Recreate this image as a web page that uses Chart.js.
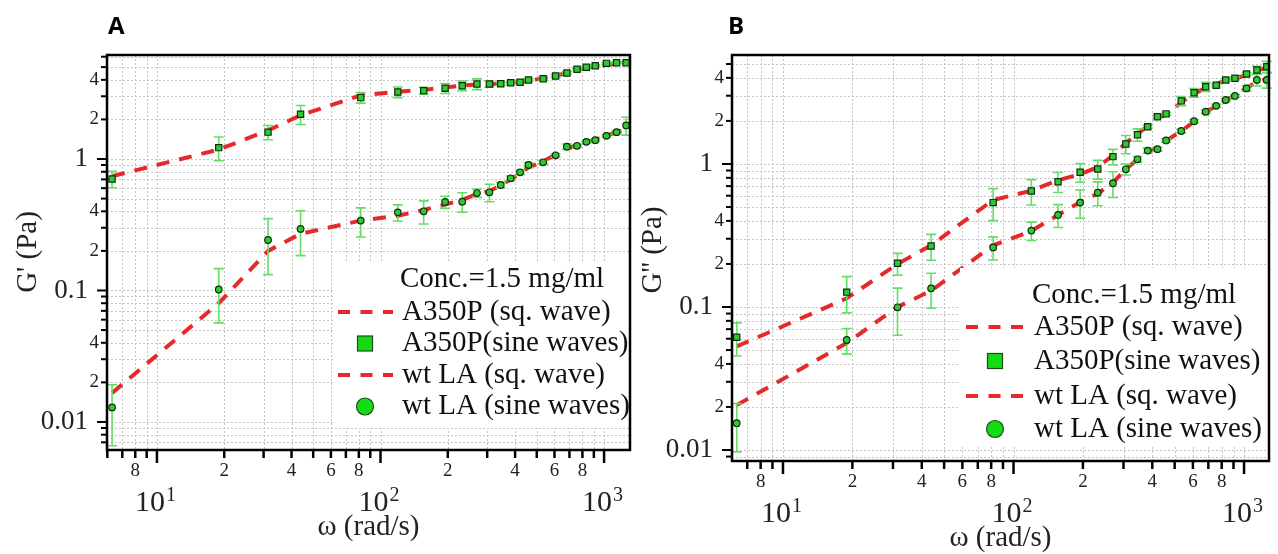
<!DOCTYPE html>
<html>
<head>
<meta charset="utf-8">
<script src="https://cdn.jsdelivr.net/npm/chart.js@4.4.0/dist/chart.umd.min.js"></script>
<style>
  body { margin: 0; background: #fff; }
  #wrap { position: relative; width: 1278px; height: 554px; }
  canvas { position: absolute; top: 0; }
</style>
</head>
<body>
<div id="wrap">
  <canvas id="chartA" width="640" height="554" style="left:0"></canvas>
  <canvas id="chartB" width="638" height="554" style="left:640px"></canvas>
</div>
<script>
// angular frequencies (rad/s) of the measured harmonics
const omega = [6.3, 18.9, 31.4, 43.9, 81.6, 119.5, 156, 194.5, 232, 270, 307, 345, 382, 421, 459, 534, 607, 682, 757, 833, 913, 1025, 1137, 1255];

// panel A, G' (Pa)
const gpA350Sine = [0.705, 1.22, 1.6, 2.19, 2.93, 3.23, 3.31, 3.45, 3.61, 3.72, 3.72, 3.73, 3.8, 3.83, 3.99, 4.08, 4.28, 4.51, 4.81, 4.98, 5.12, 5.34, 5.4, 5.4];
const gpA350Err = [0.1, 0.25, 0.2, 0.36, 0.27, 0.3, 0.2, 0.3, 0.3, 0.35, 0.2, 0.1, 0.08, 0.08, 0.08, 0.1, 0.1, 0.1, 0.1, 0.1, 0.08, 0.08, 0.08, 0.1];
const gpWtSine = [0.0129, 0.1017, 0.242, 0.294, 0.34, 0.393, 0.40, 0.471, 0.474, 0.551, 0.558, 0.634, 0.713, 0.792, 0.90, 0.944, 1.067, 1.24, 1.26, 1.35, 1.39, 1.50, 1.6, 1.80];
const gpWtErr = [0.0063, 0.045, 0.11, 0.11, 0.085, 0.055, 0.08, 0.05, 0.08, 0.04, 0.085, 0.03, 0.03, 0.03, 0.04, 0.03, 0.03, 0.06, 0.03, 0.03, 0.03, 0.03, 0.04, 0.28];
const gpA350Sq = [0.74, 1.18, 1.65, 2.15, 3.05, 3.25, 3.35, 3.5, 3.62, 3.68, 3.7, 3.75, 3.8, 3.85, 3.95, 4.1, 4.3, 4.5, 4.75, 4.95, 5.05, 5.2, 5.3, 5.45];
const gpWtSq = [0.0166, 0.08, 0.2, 0.27, 0.34, 0.37, 0.41, 0.45, 0.49, 0.54, 0.57, 0.63, 0.7, 0.78, 0.86, 0.96, 1.08, 1.2, 1.27, 1.35, 1.4, 1.5, 1.6, 1.68];

// panel B, G'' (Pa)
const gppA350Sine = [0.0614, 0.127, 0.202, 0.267, 0.537, 0.647, 0.752, 0.875, 0.923, 1.125, 1.38, 1.6, 1.82, 2.14, 2.24, 2.76, 3.15, 3.47, 3.55, 3.87, 3.97, 4.26, 4.54, 4.79];
const gppA350Err = [0.016, 0.036, 0.035, 0.055, 0.135, 0.13, 0.12, 0.13, 0.14, 0.14, 0.2, 0.16, 0.05, 0.05, 0.05, 0.2, 0.22, 0.25, 0.08, 0.08, 0.08, 0.1, 0.27, 0.43];
const gppWtSine = [0.0154, 0.0588, 0.0995, 0.135, 0.261, 0.342, 0.44, 0.537, 0.63, 0.733, 0.918, 1.078, 1.24, 1.27, 1.46, 1.7, 1.99, 2.32, 2.55, 2.8, 2.99, 3.38, 3.87, 3.87];
const gppWtErr = [0.0057, 0.012, 0.036, 0.037, 0.048, 0.05, 0.08, 0.12, 0.12, 0.15, 0.08, 0.05, 0.05, 0.04, 0.04, 0.05, 0.05, 0.06, 0.06, 0.06, 0.06, 0.15, 0.36, 0.48];
const gppA350Sq = [0.053, 0.115, 0.2, 0.27, 0.56, 0.65, 0.77, 0.85, 0.95, 1.15, 1.4, 1.62, 1.85, 2.1, 2.2, 2.7, 3.1, 3.4, 3.6, 3.85, 3.95, 4.2, 4.5, 4.7];
const gppWtSq = [0.0206, 0.056, 0.1, 0.13, 0.27, 0.34, 0.44, 0.54, 0.62, 0.74, 0.92, 1.08, 1.22, 1.3, 1.45, 1.7, 1.98, 2.3, 2.55, 2.8, 3.0, 3.4, 3.75, 3.9];

const legendLabels = ['A350P (sq. wave)', 'A350P(sine waves)', 'wt LA (sq. wave)', 'wt LA (sine waves)'];
const concLabel = 'Conc.=1.5 mg/ml';
const xTitle = 'ω (rad/s)';
const yMajorTicks = [1, 0.1, 0.01];
const yMinorLabels = [4, 2, 0.4, 0.2, 0.04, 0.02];
const xMajorTicks = [10, 100, 1000];
const xMinorLabels = [8, 20, 40, 60, 80, 200, 400, 600, 800];

const SERIF = '"Liberation Serif", "Times New Roman", serif';
const RED = '#e42a2a';
const ERR_GREEN = '#66dd66';

function pts(xs, ys) {
    return xs.map((x, i) => ({ x: x, y: ys[i] }));
}

function logValues(min, max) {
    const out = [];
    for (let e = Math.floor(Math.log10(min)); e <= Math.ceil(Math.log10(max)); e++) {
        for (let m = 1; m <= 9; m++) {
            const v = m * Math.pow(10, e);
            if (v > min * 1.001 && v < max / 1.001) out.push({ v: v, major: m === 1 });
        }
    }
    return out;
}

function firstDigit(v) {
    return String(Math.round(v / Math.pow(10, Math.floor(Math.log10(v) + 1e-9))));
}

function panelPlugin(cfg) {
    return {
        id: 'panel' + cfg.letter,
        beforeDatasetsDraw(chart) {
            const { ctx, chartArea: a, scales: { x, y } } = chart;
            ctx.save();
            ctx.strokeStyle = '#c4c4c4';
            ctx.lineWidth = 1;
            ctx.setLineDash([2, 2]);
            for (const t of logValues(x.min, x.max)) {
                const px = Math.round(x.getPixelForValue(t.v)) + 0.5;
                ctx.beginPath(); ctx.moveTo(px, a.top); ctx.lineTo(px, a.bottom); ctx.stroke();
            }
            for (const t of logValues(y.min, y.max)) {
                const py = Math.round(y.getPixelForValue(t.v)) + 0.5;
                ctx.beginPath(); ctx.moveTo(a.left, py); ctx.lineTo(a.right, py); ctx.stroke();
            }
            ctx.restore();
        },
        beforeDatasetDraw(chart, args) {
            const ds = chart.data.datasets[args.index];
            if (!ds.errors) return;
            const { ctx, scales: { x, y } } = chart;
            ctx.save();
            ctx.strokeStyle = ERR_GREEN;
            ctx.lineWidth = 1.6;
            ds.data.forEach((p, i) => {
                const e = ds.errors[i];
                const px = x.getPixelForValue(p.x);
                const top = y.getPixelForValue(p.y + e);
                const bot = y.getPixelForValue(Math.max(p.y - e, y.min));
                ctx.beginPath();
                ctx.moveTo(px, top); ctx.lineTo(px, bot);
                ctx.moveTo(px - 5, top); ctx.lineTo(px + 5, top);
                ctx.moveTo(px - 5, bot); ctx.lineTo(px + 5, bot);
                ctx.stroke();
            });
            ctx.restore();
        },
        afterDatasetsDraw(chart) {
            const { ctx, chartArea: a, scales: { x, y } } = chart;
            const lg = cfg.legend;
            ctx.save();

            // legend
            ctx.fillStyle = '#fff';
            ctx.fillRect(lg.box[0], lg.box[1], lg.box[2] - lg.box[0], lg.box[3] - lg.box[1]);
            ctx.fillStyle = '#111';
            ctx.font = '29px ' + SERIF;
            ctx.textBaseline = 'middle';
            ctx.textAlign = 'left';
            ctx.fillText(concLabel, lg.concX, lg.rows[0]);
            legendLabels.forEach((t, i) => ctx.fillText(t, lg.textX, lg.rows[i + 1]));
            ctx.strokeStyle = RED;
            ctx.lineWidth = 4;
            ctx.setLineDash([12, 10.5]);
            [1, 3].forEach(r => {
                ctx.beginPath(); ctx.moveTo(lg.dash[0], lg.rows[r]); ctx.lineTo(lg.dash[1], lg.rows[r]); ctx.stroke();
            });
            ctx.setLineDash([]);
            ctx.fillStyle = '#14dc14';
            ctx.strokeStyle = '#1d4a1d';
            ctx.lineWidth = 1.2;
            ctx.fillRect(lg.markX - 7.5, lg.rows[2] - 7.5, 15, 15);
            ctx.strokeRect(lg.markX - 7.5, lg.rows[2] - 7.5, 15, 15);
            ctx.beginPath(); ctx.arc(lg.markX, lg.rows[4], 8.5, 0, Math.PI * 2); ctx.fill(); ctx.stroke();

            // frame
            ctx.strokeStyle = '#000';
            ctx.lineWidth = 2.5;
            ctx.strokeRect(a.left, a.top, a.right - a.left, a.bottom - a.top);

            // y ticks + labels
            ctx.lineWidth = 2;
            ctx.fillStyle = '#222';
            for (const t of logValues(y.min, y.max)) {
                const py = y.getPixelForValue(t.v);
                ctx.beginPath(); ctx.moveTo(a.left, py); ctx.lineTo(a.left - (t.major ? 10 : 6), py); ctx.stroke();
            }
            ctx.textAlign = 'right';
            ctx.font = '27px ' + SERIF;
            yMajorTicks.forEach(v => ctx.fillText(String(v), a.left - 19, y.getPixelForValue(v)));
            ctx.font = '19px ' + SERIF;
            yMinorLabels.forEach(v => {
                if (v < y.max) ctx.fillText(firstDigit(v), a.left - 8, y.getPixelForValue(v));
            });

            // x ticks + labels
            ctx.lineWidth = 2.5;
            for (const t of logValues(x.min, x.max)) {
                const px = x.getPixelForValue(t.v);
                ctx.beginPath(); ctx.moveTo(px, a.bottom); ctx.lineTo(px, a.bottom + (t.major ? 13 : 8)); ctx.stroke();
            }
            ctx.textAlign = 'center';
            ctx.font = '19px ' + SERIF;
            xMinorLabels.forEach(v => ctx.fillText(firstDigit(v), x.getPixelForValue(v), a.bottom + 21));
            ctx.textBaseline = 'alphabetic';
            xMajorTicks.forEach(v => {
                const px = x.getPixelForValue(v);
                ctx.textAlign = 'right';
                ctx.font = '30px ' + SERIF;
                ctx.fillText('10', px + 8, a.bottom + 61);
                ctx.textAlign = 'left';
                ctx.font = '20px ' + SERIF;
                ctx.fillText(String(Math.round(Math.log10(v))), px + 9, a.bottom + 51);
            });

            // axis titles
            ctx.textAlign = 'center';
            ctx.textBaseline = 'middle';
            ctx.font = '29px ' + SERIF;
            ctx.fillText(xTitle, (a.left + a.right) / 2, a.bottom + 77);
            ctx.save();
            ctx.translate(cfg.yTitleX, cfg.yTitleY);
            ctx.rotate(-Math.PI / 2);
            ctx.fillText(cfg.yTitle, 0, 0);
            ctx.restore();

            // panel letter
            ctx.fillStyle = '#000';
            ctx.textAlign = 'left';
            ctx.textBaseline = 'alphabetic';
            ctx.font = 'bold 24px "Open Sans", "DejaVu Sans", sans-serif';
            ctx.fillText(cfg.letter, cfg.letterX, 34);
            ctx.restore();
        }
    };
}

function makeChart(id, cfg, a350Sq, wtSq, a350Sine, a350Err, wtSine, wtErr) {
    const ctx = document.getElementById(id).getContext('2d');
    const markerStyle = {
        backgroundColor: '#33c833',
        borderColor: '#0e2e0e',
        borderWidth: 1.2,
        showLine: false
    };
    return new Chart(ctx, {
        type: 'scatter',
        data: {
            datasets: [
                {
                    type: 'line', label: legendLabels[0], data: pts(omega, a350Sq),
                    borderColor: RED, borderWidth: 4, borderDash: [13, 10], pointRadius: 0, order: 2
                },
                {
                    type: 'line', label: legendLabels[2], data: pts(omega, wtSq),
                    borderColor: RED, borderWidth: 4, borderDash: [13, 10], pointRadius: 0, order: 2
                },
                Object.assign({
                    label: legendLabels[1], data: pts(omega, a350Sine), errors: a350Err,
                    pointStyle: 'rect', pointRadius: 4.4, order: 1
                }, markerStyle),
                Object.assign({
                    label: legendLabels[3], data: pts(omega, wtSine), errors: wtErr,
                    pointStyle: 'circle', pointRadius: 3.3, order: 1
                }, markerStyle)
            ]
        },
        options: {
            responsive: false,
            animation: false,
            layout: { padding: cfg.padding },
            plugins: { legend: { display: false }, tooltip: { enabled: false } },
            scales: {
                x: {
                    type: 'logarithmic', min: cfg.xMin, max: cfg.xMax,
                    grid: { display: false }, border: { display: false }, ticks: { display: false },
                    afterFit: s => { s.height = cfg.xHeight; }
                },
                y: {
                    type: 'logarithmic', min: cfg.yMin, max: cfg.yMax,
                    grid: { display: false }, border: { display: false }, ticks: { display: false },
                    afterFit: s => { s.width = cfg.yWidth; }
                }
            }
        },
        plugins: [panelPlugin(cfg)]
    });
}

makeChart('chartA', {
    letter: 'A', letterX: 108, yTitle: "G' (Pa)", yTitleX: 28, yTitleY: 252,
    xMin: 5.98, xMax: 1306, yMin: 0.00612, yMax: 6.18,
    padding: { left: 0, top: 55, right: 10, bottom: 0 }, yWidth: 107, xHeight: 104,
    legend: { box: [335, 262, 629, 428], concX: 400, textX: 402, rows: [279, 312, 343.5, 375, 406.5], dash: [338, 393], markX: 365 }
}, gpA350Sq, gpWtSq, gpA350Sine, gpA350Err, gpWtSine, gpWtErr);

makeChart('chartB', {
    letter: 'B', letterX: 88, yTitle: "G'' (Pa)", yTitleX: 13, yTitleY: 250,
    xMin: 6.01, xMax: 1283, yMin: 0.00838, yMax: 5.78,
    padding: { left: 0, top: 55, right: 9, bottom: 0 }, yWidth: 92, xHeight: 93,
    legend: { box: [320, 268, 628, 447], concX: 392, textX: 394, rows: [295, 327, 361, 396, 429], dash: [326, 384], markX: 355 }
}, gppA350Sq, gppWtSq, gppA350Sine, gppA350Err, gppWtSine, gppWtErr);
</script>
</body>
</html>
